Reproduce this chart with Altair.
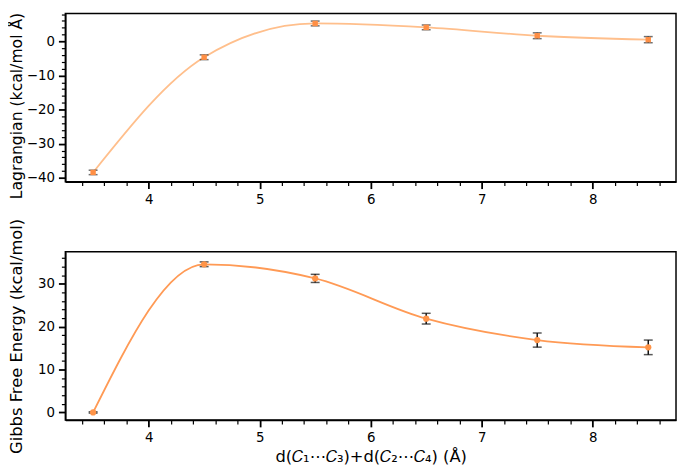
import altair as alt
import pandas as pd

# ---- data ----
x_vals = [3.5, 4.5, 5.5, 6.5, 7.5, 8.5]
lagrangian = [-38.4, -4.65, 5.25, 4.1, 1.65, 0.5]
lagrangian_err = [0.65, 0.7, 0.7, 0.7, 0.85, 0.9]
gibbs = [0.0, 34.6, 31.3, 21.9, 16.9, 15.2]
gibbs_err = [0.15, 0.55, 0.95, 1.25, 1.65, 1.7]

x_major = [4, 5, 6, 7, 8]
x_minor = [3.4, 3.6, 3.8, 4.2, 4.4, 4.6, 4.8, 5.2, 5.4, 5.6, 5.8,
           6.2, 6.4, 6.6, 6.8, 7.2, 7.4, 7.6, 7.8, 8.2, 8.4, 8.6]
top_y_major = [-40, -30, -20, -10, 0]
top_y_minor = [-38, -36, -34, -32, -28, -26, -24, -22, -18, -16, -14, -12,
               -8, -6, -4, -2, 2, 4, 6, 8]
bot_y_major = [0, 10, 20, 30]
bot_y_minor = [2, 4, 6, 8, 12, 14, 16, 18, 22, 24, 26, 28, 32, 34, 36]

x_title = "d(\U0001D436\u2081\u22EF\U0001D436\u2083)+d(\U0001D436\u2082\u22EF\U0001D436\u2084) (\u00C5)"
top_title = "Lagrangian (kcal/mol \u00C5)"
bot_title = "Gibbs Free Energy (kcal/mol)"

W = 617.6
H = 170


def make_df(vals, errs):
    return pd.DataFrame({
        "x": x_vals,
        "y": vals,
        "lo": [v - e for v, e in zip(vals, errs)],
        "hi": [v + e for v, e in zip(vals, errs)],
    })


def panel(df, ydomain, ymajor, yminor, ytitle, ytitle_size, ytitle_y,
          line_color, pt_color, pt_shape, pt_size, err_color, show_xtitle):
    xs = alt.Scale(domain=[3.25, 8.75], nice=False, zero=False)
    ys = alt.Scale(domain=ydomain, nice=False, zero=False)
    main_x = alt.Axis(values=x_major, format="d", orient="bottom", grid=False,
                      tickSize=7, tickWidth=1.8, labelPadding=4, titlePadding=5)
    main_y = alt.Axis(values=ymajor, format="d", orient="left", grid=False,
                      tickSize=7, tickWidth=1.8, labelPadding=4,
                      titleX=-41, titleY=ytitle_y, titleFontSize=ytitle_size,
                      titleLimit=500)
    minor_x = alt.Axis(values=x_minor, orient="bottom", grid=False, labels=False,
                       domain=False, tickSize=4, tickWidth=1.2)
    minor_y = alt.Axis(values=yminor, orient="left", grid=False, labels=False,
                       domain=False, tickSize=4, tickWidth=1.2)
    base = alt.Chart(df)
    xenc_main = alt.X("x:Q", scale=xs, axis=main_x,
                      title=x_title if show_xtitle else None)
    line = base.mark_line(interpolate="monotone", color=line_color,
                          strokeWidth=1.8).encode(
        x=xenc_main,
        y=alt.Y("y:Q", scale=ys, axis=main_y, title=ytitle),
    )
    err = base.mark_errorbar(ticks=True, size=9, thickness=1.5,
                             color=err_color).encode(
        x=alt.X("x:Q", scale=xs, axis=None),
        y=alt.Y("lo:Q", scale=ys, axis=None),
        y2="hi:Q",
    )
    pts = base.mark_point(shape=pt_shape, filled=True, size=pt_size,
                          color=pt_color, opacity=1).encode(
        x=alt.X("x:Q", scale=xs, axis=minor_x, title=None),
        y=alt.Y("y:Q", scale=ys, axis=minor_y, title=None),
    )
    return alt.layer(line, err, pts).resolve_axis(
        x="independent", y="independent").properties(width=W, height=H)


top = panel(make_df(lagrangian, lagrangian_err), [-41.1, 8.15],
            top_y_major, top_y_minor, top_title, 15.8, 93,
            "#ffbf8c", "#ff8f45", "square", 30, "#333333", False)
bottom = panel(make_df(gibbs, gibbs_err), [-1.75, 37.5],
               bot_y_major, bot_y_minor, bot_title, 16.5, 85,
               "#ff9a55", "#ff9448", "circle", 40, "#111111", True)

chart = alt.vconcat(top, bottom, spacing=71, bounds="flush").properties(
    padding={"left": 0, "top": 0, "right": 0, "bottom": 0}
).configure_view(
    stroke="black", strokeWidth=1.5
).configure_axis(
    labelFont="DejaVu Sans", labelFontSize=13.5, labelColor="black",
    titleFont="DejaVu Sans", titleFontSize=16.5, titleFontWeight="normal",
    titleColor="black", domainColor="black", domainWidth=1.5,
    tickColor="black"
)

chart.save("out.html", embed_options={"renderer": "svg", "actions": False})
